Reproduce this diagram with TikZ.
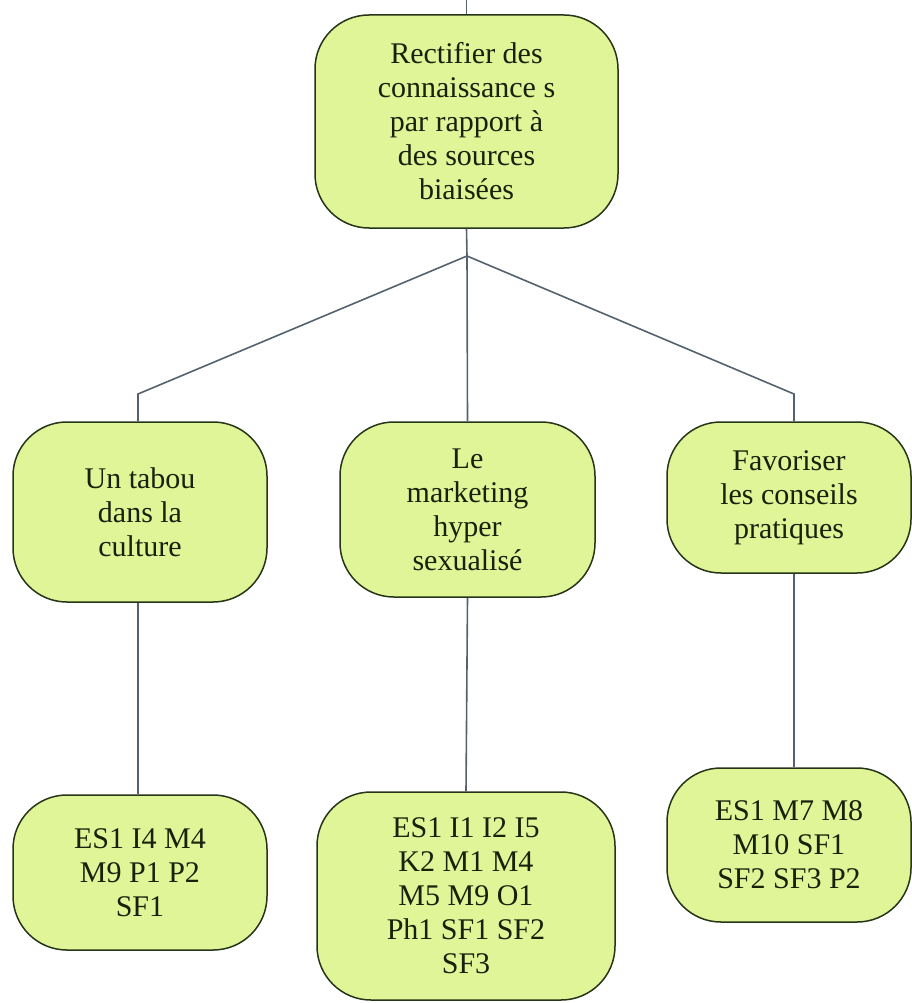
\documentclass[tikz,border=0pt]{standalone}
\usepackage{fontspec}
\setmainfont{Liberation Serif}
\definecolor{boxfill}{RGB}{224,245,152}
\definecolor{boxline}{RGB}{38,52,24}
\definecolor{boxtext}{RGB}{22,34,10}
\definecolor{linkcol}{RGB}{84,98,112}
\tikzset{
  box/.style={draw=boxline, line width=1.5pt, fill=boxfill, rounded corners=54pt,
    align=center, text=boxtext, inner sep=0pt, font=\fontsize{30}{34}\selectfont},
  link/.style={draw=linkcol, line width=1.6pt}
}
\begin{document}
\begin{tikzpicture}[x=1pt,y=-1pt]
        \useasboundingbox (0,0) rectangle (912,1003);

        \node [box, minimum width=303pt, minimum height=213pt] (R) at (466.5,121.5)
          {Rectifier des\\connaissance s\\par rapport à\\des sources\\biaisées};

        \node [box, minimum width=254pt, minimum height=180pt] (T) at (140,512)
          {Un tabou\\dans la\\culture};
        \node [box, minimum width=255pt, minimum height=175pt] (M) at (467.5,509.5)
          {Le\\marketing\\hyper\\sexualisé};
        \node [box, minimum width=244pt, minimum height=151pt] (F) at (789,497.5)
          {Favoriser\\les conseils\\pratiques};

        \node [box, minimum width=254pt, minimum height=155pt] (TS) at (140,872.5)
          {ES1 I4 M4\\M9 P1 P2\\SF1};
        \node [box, minimum width=298pt, minimum height=208pt] (MS) at (466,896)
          {ES1 I1 I2 I5\\K2 M1 M4\\M5 M9 O1\\Ph1 SF1 SF2\\SF3};
        \node [box, minimum width=244pt, minimum height=154pt] (FS) at (789,845)
          {ES1 M7 M8\\M10 SF1\\SF2 SF3 P2};

        \coordinate (top) at (466.5,0);
        \coordinate (J) at (467,256);
        \coordinate (JT) at (138,394);
        \coordinate (JF) at (794,394);

        \draw [link] (top) -- (R.north);
        \draw [link] (R.south) -- (J);
        \draw [link] (J) -- (M.north);
        \draw [link] (J) -- (JT) -- (JT |- T.north);
        \draw [link] (J) -- (JF) -- (JF |- F.north);

        \draw [link] (T.south -| JT) -- (JT |- TS.north);
        \draw [link] (M.south) -- (MS.north);
        \draw [link] (F.south -| JF) -- (JF |- FS.north);
      \end{tikzpicture}
\end{document}
